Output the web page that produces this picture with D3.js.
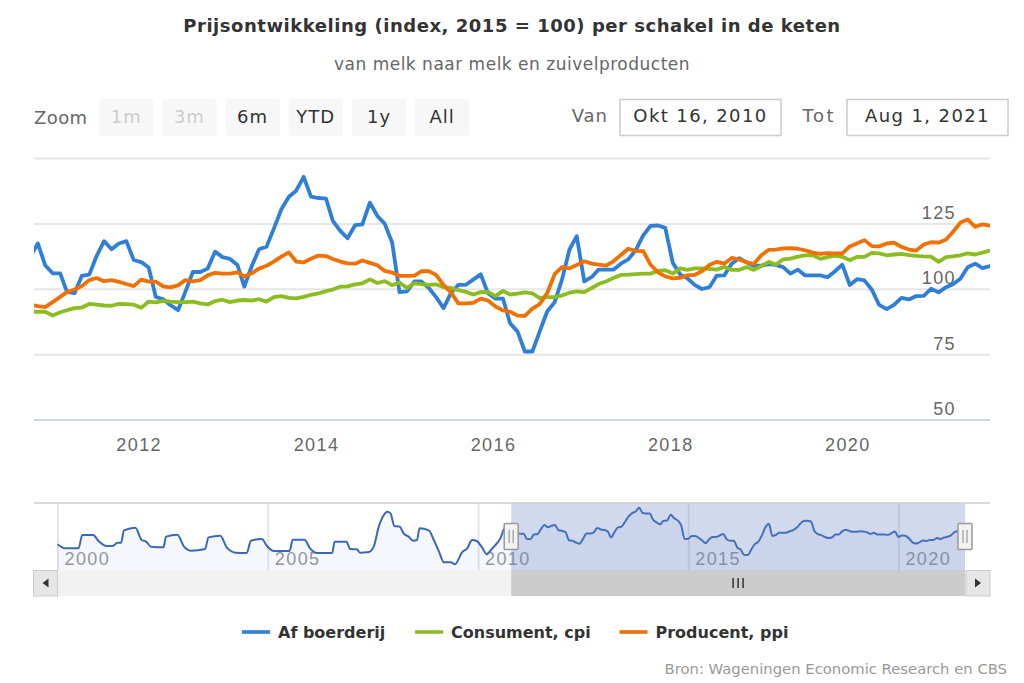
<!DOCTYPE html>
<html><head><meta charset="utf-8">
<script src="https://cdn.jsdelivr.net/npm/d3@7/dist/d3.min.js"></script>
<style>html,body{margin:0;padding:0;background:#fff}svg{display:block;font-family:"DejaVu Sans",sans-serif}
.nodom .domain{display:none}</style></head><body>
<svg id="c" width="1024" height="683"></svg>
<script>
// Monthly values from Oct 2010 to Aug 2021
const startMonth=[2010,9];
const afBoerderij=[112.4,117.3,109.0,
105.9,105.9,98.8,98.3,104.9,105.4,112.5,118.2,115.1,117.3,118.2,111,
110.2,108.1,96.9,96,93.7,91.8,98.8,106.4,106.4,107.7,114.2,112.1,
111.4,109.1,100.8,108.7,115.1,116.1,123,130.4,135.2,137.5,142.8,135.2,
134.7,134.5,126,122.1,119.3,124.3,124.6,132.9,127.8,124.9,117.6,98.7,
99,102.8,102.8,100.3,96.8,92.6,98.3,101.5,101.5,103.5,105.5,98.3,
96.2,96.2,86.8,83.6,76,76,83.6,91.3,94.9,103.5,115,120.1,
102.8,104.5,107.3,107.3,107.3,109.6,111.2,114.7,120.4,124,124.2,123.3,
109.9,105.4,104.1,101.5,99.9,100.6,105,105.1,109.6,111.7,110.1,108.8,
108.8,109.4,109.1,108.3,105.8,107.3,105.1,105.1,105.1,104.4,106.7,109.2,
101.4,103.7,103.2,99.6,93.8,92.2,93.8,96.5,95.9,97.2,97.3,100,
98.6,100.6,101.7,103.8,108.2,109.6,107.9,108.7];
const consument=[91.2,91.2,91.2,
89.8,91,91.8,92.6,92.8,94.2,93.9,93.6,93.5,94.2,94.1,93.9,
92.7,95.1,94.8,95.4,95.1,94.9,94.9,95.1,94.4,94,95.3,95.8,
94.9,95.5,95.7,95.5,96,95.1,96.8,97.2,96.5,96.3,96.9,97.7,
98.2,99.1,99.7,100.8,100.9,101.7,102.1,103.6,102.2,102.9,101.4,102.4,
100.3,102.1,101.8,101.5,101.7,100.6,100.3,99.5,98.8,97.8,98.7,98.8,
97.2,99.2,97.8,98.1,98.6,98.2,96.4,96.8,96.8,97.4,98.5,99,
98.7,100.3,101.8,102.8,104.1,105.3,105.4,105.6,105.8,105.8,106.8,107.1,
105.8,107.8,107.2,107.8,107.8,107.6,107.3,108.3,107.2,107.2,108.3,107.2,
108.7,110.3,109.2,111.2,111.5,112.3,112.8,112.9,111.4,112.1,112.7,112.2,
110.9,112.2,112.2,113.7,113.5,112.8,113.1,113.3,112.9,112.6,112.4,112.3,
110.3,112.1,112.4,112.8,113.5,113.1,113.8,114.6];
const producent=[93.9,93.4,93,
94.9,96.9,98.7,99.7,101,103.3,104.1,102.9,103.3,102.6,101.8,101,
103.5,102.7,102.7,100.9,100.5,101.3,103.3,102.8,103.3,105.1,106.1,105.8,
105.8,106.3,104.7,105.9,107.7,108.8,110.4,112.3,113.9,110.4,110.1,111.5,
112.7,112.5,111.4,110.4,109.7,109.6,110.8,109.9,109,106.8,106.2,104.9,
104.9,105,106.7,106.7,105.3,101.4,98.6,94.4,94.4,94.6,96.2,95.5,
93.2,91.7,91.2,89.7,89.6,92.4,94.1,98.3,105.6,108.3,107.8,109.1,
110.5,109.6,109.2,108.8,110.5,112.9,115.3,114.5,114.4,109.2,106.3,104.7,
104,104.2,105.1,105.3,106.7,109.1,110.3,109.6,111.8,111.2,110.1,109.5,
112.8,114.9,115,115.4,115.5,115.3,114.7,113.8,113.3,113.6,113.5,113.5,
116.2,117.4,118.6,116.3,116.2,117.3,117.6,116,115,114.6,116.9,117.8,
117.6,118.8,121.7,125.3,126.5,123.7,124.6,124.1];
// Navigator history before the selected window
const navYears=[2000,2000.18,2000.5,2000.59,2000.85,2000.97,2001.17,2001.33,2001.42,2001.51,2001.58,2001.85,2002,2002.11,2002.22,2002.52,2002.58,2002.85,2003.01,2003.17,2003.51,2003.59,2003.87,2004.03,2004.23,2004.5,2004.6,2004.86,2004.98,2005.15,2005.52,2005.59,2005.87,2006.01,2006.17,2006.53,2006.59,2006.87,2006.96,2007.12,2007.19,2007.4,2007.52,2007.64,2007.76,2007.84,2007.92,2008.01,2008.14,2008.23,2008.35,2008.46,2008.55,2008.61,2008.83,2008.95,2009.07,2009.19,2009.35,2009.45,2009.62,2009.74,2009.86,2009.96,2010.1,2010.2,2010.34,2010.54,2010.63];
const navValues=[91.1,85.4,85.4,104.2,104.2,96.2,88.7,89.2,93.4,93.4,110.8,114.6,97.2,94.8,87.8,86.8,101.9,104.7,87.8,82.1,84.5,100.9,103.3,86.3,79.3,78.8,96.2,98.6,88.7,81.6,81.6,97.6,97.6,84.9,78.8,78.8,94.8,94.8,84.5,84,79.3,80.2,87.8,116,132.4,137.1,134.8,116.9,116,106.6,101.9,96.2,97.2,113.6,110.8,97.2,80.7,65.7,65.7,62.8,79.8,85.4,97.2,96.2,86.3,77.4,85.4,100.5,113.6];
const yTicks=[50,75,100,125,150];
const yLabels=["50","75","100","125",""];
const xTickYears=[2012,2014,2016,2018,2020];
const navTickYears=[2000,2005,2010,2015,2020];
const seriesNames=["Af boerderij","Consument, cpi","Producent, ppi"];
const seriesColors=["#2f7ed8","#8bbc21","#f07000"];
const rangeButtons=["1m","3m","6m","YTD","1y","All"];
const disabledButtons=["1m","3m"];
const titleText="Prijsontwikkeling (index, 2015 = 100) per schakel in de keten";
const subtitleText="van melk naar melk en zuivelproducten";
const sourceText="Bron: Wageningen Economic Research en CBS";
const fromDate="Okt 16, 2010", toDate="Aug 1, 2021";

const svg=d3.select("#c");
const months=afBoerderij.map((_,i)=>new Date(startMonth[0],startMonth[1]+i,1));
const yearDate=y=>{const f=Math.floor(y);return new Date(+new Date(f,0,1)+(y-f)*365.25*864e5)};

// title
svg.append("text").attr("x",512).attr("y",32).attr("text-anchor","middle").attr("font-size",18).attr("font-weight","bold").attr("fill","#333").attr("letter-spacing",0.53).text(titleText);
svg.append("text").attr("x",512).attr("y",70).attr("text-anchor","middle").attr("font-size",17).attr("fill","#666").attr("letter-spacing",0.5).text(subtitleText);

// range selector
svg.append("text").attr("x",34).attr("y",124).attr("font-size",18).attr("letter-spacing",0.4).attr("fill","#666").text("Zoom");
const btnX=d3.scalePoint().domain(rangeButtons).range([99,415]);
const btn=svg.selectAll("g.b").data(rangeButtons).join("g").attr("class","b").attr("transform",d=>`translate(${btnX(d)},99)`);
btn.append("rect").attr("width",54.5).attr("height",37).attr("rx",3).attr("fill","#f7f7f7");
btn.append("text").attr("x",27.2).attr("y",24).attr("text-anchor","middle").attr("font-size",18).attr("letter-spacing",1)
  .attr("fill",d=>disabledButtons.includes(d)?"#ccc":"#333").text(d=>d);
svg.append("text").attr("x",608).attr("y",122).attr("text-anchor","end").attr("font-size",18).attr("letter-spacing",1).attr("fill","#666").text("Van");
svg.append("text").attr("x",836).attr("y",122).attr("text-anchor","end").attr("font-size",18).attr("letter-spacing",2.5).attr("fill","#666").text("Tot");
[[620,fromDate],[847,toDate]].forEach(([x,t])=>{
  svg.append("rect").attr("x",x).attr("y",99.5).attr("width",161).attr("height",36).attr("fill","#fff").attr("stroke","#ccc").attr("stroke-width",1.5);
  svg.append("text").attr("x",x+80.5).attr("y",122).attr("text-anchor","middle").attr("font-size",18).attr("letter-spacing",1.4).attr("fill","#333").text(t);
});

// main plot
const L=34,R=990,T=158,B=419.5;
const x=d3.scaleTime().domain([new Date(2010,9,16),new Date(2021,7,1)]).range([L,R]);
const y=d3.scaleLinear().domain([50,150]).range([B,T]);
svg.append("clipPath").attr("id","clip").append("rect").attr("x",L).attr("y",T-5).attr("width",R-L).attr("height",B-T+10);
const yAxis=d3.axisLeft(y).tickValues(yTicks).tickSize(R-L).tickFormat((d,i)=>yLabels[i]);
const gy=svg.append("g").attr("class","nodom").attr("transform",`translate(${R},0)`).call(yAxis);
gy.selectAll("line").attr("stroke",d=>d===50?"#ccd6eb":"#e6e6e6").attr("stroke-width",2);
gy.selectAll("text").attr("x",-34).attr("dy",-5).attr("text-anchor","end").attr("font-size",18).attr("letter-spacing",1.4).attr("fill","#666").attr("font-family","inherit");
const xAxis=d3.axisBottom(x).tickValues(xTickYears.map(v=>new Date(v,0,1))).tickSize(0).tickPadding(0).tickFormat(d3.timeFormat("%Y"));
const gx=svg.append("g").attr("class","nodom").attr("transform",`translate(0,${B})`).call(xAxis);
gx.selectAll("text").attr("x",-2.5).attr("y",18.5).attr("font-size",18).attr("letter-spacing",1.4).attr("fill","#666").attr("font-family","inherit");
const line=d3.line().x((d,i)=>x(months[i])).y(d=>y(d));
const plot=svg.append("g").attr("clip-path","url(#clip)");
[afBoerderij,consument,producent].forEach((s,i)=>{
  plot.append("path").attr("d",line(s)).attr("fill","none").attr("stroke",seriesColors[i]).attr("stroke-width",3.8).attr("stroke-linejoin","round").attr("stroke-linecap","round");
});

// navigator
const NT=503,NB=570;
const nx=d3.scaleTime().domain([new Date(2000,0,1),new Date(2021,7,1)]).range([57.5,965]);
const ny=d3.scaleLinear().domain([50,150]).range([573.4,502.6]);
const navPts=navYears.map((v,i)=>[yearDate(v),navValues[i]]).concat(afBoerderij.map((v,i)=>[months[i],v]));
const gridN=d3.axisBottom(nx).tickValues(navTickYears.map(v=>new Date(v,0,1))).tickSize(NB-NT).tickPadding(0).tickFormat(d3.timeFormat("%Y"));
const gn=svg.append("g").attr("class","nodom").attr("transform",`translate(0,${NT})`).call(gridN);
gn.selectAll("line").attr("stroke","#e6e6e6").attr("stroke-width",2);
gn.selectAll("text").attr("y",61.5).attr("dy",0).attr("x",6.5).attr("text-anchor","start").attr("font-size",18).attr("letter-spacing",1.4).attr("fill","#999").attr("font-family","inherit");
const area=d3.area().x(d=>nx(d[0])).y0(NB).y1(d=>ny(d[1])).curve(d3.curveMonotoneX);
svg.append("path").attr("d",area(navPts)).attr("fill","#3366bb").attr("fill-opacity",0.05);
svg.append("path").attr("d",d3.line().x(d=>nx(d[0])).y(d=>ny(d[1])).curve(d3.curveMonotoneX)(navPts)).attr("fill","none").attr("stroke","#3a68b8").attr("stroke-width",2);
const selA=nx(new Date(2010,9,16)), selB=nx(new Date(2021,7,1));
svg.append("rect").attr("x",selA).attr("y",NT).attr("width",selB-selA).attr("height",NB-NT).attr("fill","#6685c2").attr("fill-opacity",0.3);
svg.append("line").attr("x1",L).attr("x2",R).attr("y1",NT).attr("y2",NT).attr("stroke","#ccc").attr("stroke-width",1.5);
// scrollbar
svg.append("rect").attr("x",L).attr("y",NB).attr("width",R-L).attr("height",26).attr("fill","#f2f2f2");
svg.append("rect").attr("x",selA).attr("y",NB).attr("width",selB-selA).attr("height",26).attr("fill","#ccc");
[[33.5,1],[966,-1]].forEach(([bx,dir])=>{
  svg.append("rect").attr("x",bx).attr("y",NB+.5).attr("width",24).attr("height",25.5).attr("fill","#e6e6e6").attr("stroke","#ccc");
  const c=bx+12;
  svg.append("path").attr("d",d3.line()([[c+3*dir,NB+8.5],[c+3*dir,NB+17.5],[c-3*dir,NB+13]])).attr("fill","#333");
});
const cx=(selA+selB)/2;
[-5,0,5].forEach(d=>svg.append("line").attr("x1",cx+d).attr("x2",cx+d).attr("y1",NB+8).attr("y2",NB+18).attr("stroke","#333").attr("stroke-width",1.5));
// handles
[selA,selB].forEach(h=>{
  svg.append("rect").attr("x",h-7).attr("y",523.5).attr("width",14).attr("height",26).attr("rx",1).attr("fill","#f2f2f2").attr("stroke","#999").attr("stroke-width",1.5);
  [-2,2].forEach(d=>svg.append("line").attr("x1",h+d).attr("x2",h+d).attr("y1",530).attr("y2",543).attr("stroke","#999").attr("stroke-width",1.2));
});

// legend
const legendX=[242,415,619.5];
const lg=svg.selectAll("g.l").data(seriesNames).join("g").attr("class","l").attr("transform",(d,i)=>`translate(${legendX[i]},632)`);
lg.append("line").attr("x2",28).attr("stroke",(d,i)=>seriesColors[i]).attr("stroke-width",3.6);
lg.append("text").attr("x",36).attr("y",6).attr("font-size",16).attr("font-weight","bold").attr("fill","#333").text(d=>d);

svg.append("text").attr("x",1007).attr("y",674).attr("text-anchor","end").attr("font-size",14.8).attr("fill","#999").text(sourceText);
</script></body></html>
